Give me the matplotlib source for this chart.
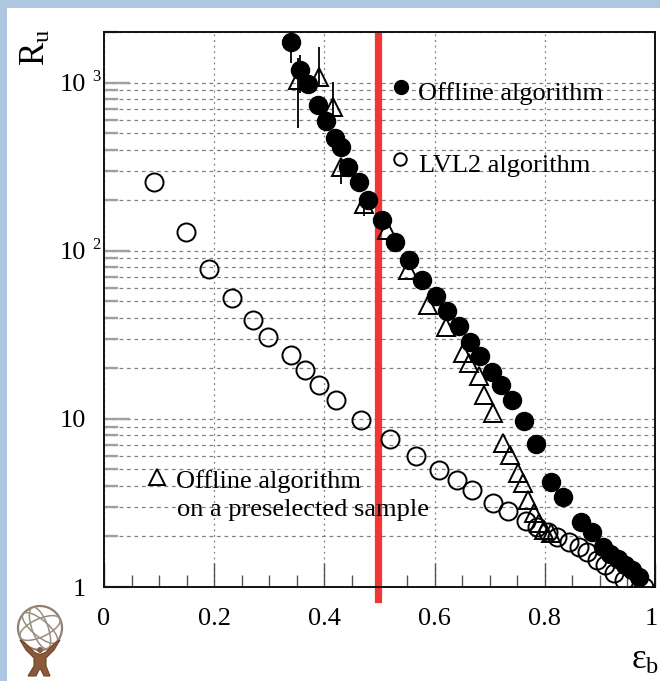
import matplotlib
matplotlib.use("Agg")
import matplotlib.pyplot as plt
import matplotlib.transforms as mtransforms
from matplotlib.patches import Rectangle, Circle, Ellipse, Polygon
from matplotlib.ticker import FixedLocator, FixedFormatter, NullFormatter, LogLocator, MultipleLocator

plt.rcParams['font.family'] = ['Liberation Serif', 'DejaVu Serif']
plt.rcParams['mathtext.fontset'] = 'custom'
plt.rcParams['mathtext.rm'] = 'Liberation Serif'
plt.rcParams['mathtext.it'] = 'Liberation Serif:italic'

# ---- rejection R_u versus b-tagging efficiency eps_b ----
lvl2_eff = [0.090, 0.149, 0.191, 0.232, 0.271, 0.298, 0.340, 0.365, 0.390, 0.421,
            0.466, 0.519, 0.567, 0.608, 0.640, 0.667, 0.706, 0.733, 0.765, 0.785,
            0.805, 0.823, 0.844, 0.862, 0.877, 0.895, 0.910, 0.925, 0.943, 0.980]
lvl2_rej = [255, 129, 78, 52.6, 38.5, 30.7, 23.9, 19.6, 16.0, 13.0,
            9.8, 7.55, 6.0, 4.98, 4.32, 3.8, 3.17, 2.83, 2.47, 2.26,
            2.11, 1.99, 1.86, 1.74, 1.62, 1.45, 1.35, 1.21, 1.10, 1.0]

offline_eff = [0.339, 0.355, 0.370, 0.389, 0.403, 0.419, 0.431, 0.442, 0.463, 0.479,
               0.504, 0.528, 0.554, 0.578, 0.603, 0.623, 0.645, 0.665, 0.683, 0.705,
               0.721, 0.741, 0.762, 0.784, 0.812, 0.833, 0.865, 0.886, 0.906, 0.919,
               0.932, 0.945, 0.958, 0.971]
offline_rej = [1745, 1184, 977, 733, 590, 471, 414, 315, 256, 199,
               153, 113, 88, 67, 54, 44, 35.5, 28.7, 23.7, 19.0,
               16.0, 12.9, 9.7, 7.1, 4.2, 3.45, 2.44, 2.12, 1.74, 1.58,
               1.46, 1.36, 1.26, 1.15]
offline_err_lo = [442, 321] + [0] * 32
offline_err_hi = [442, 270] + [0] * 32

presel_eff = [0.352, 0.390, 0.416, 0.431, 0.471, 0.513, 0.552, 0.588, 0.621, 0.651,
              0.663, 0.681, 0.690, 0.706, 0.724, 0.736, 0.751, 0.760, 0.769, 0.781,
              0.790, 0.799, 0.811]
presel_rej = [1030, 1080, 716, 315, 190, 132, 77, 47.5, 35.4, 24.6,
              21.5, 17.9, 13.9, 10.8, 7.17, 6.1, 4.75, 4.14, 3.3, 2.75,
              2.39, 2.18, 2.09]
presel_err_lo = [490, 117, 173, 64, 28] + [0] * 18
presel_err_hi = [380, 550, 288, 40, 20] + [0] * 18

cut_eff = 0.498

x_ticks = [0, 0.2, 0.4, 0.6, 0.8, 1]
x_tick_labels = ['0', '0.2', '0.4', '0.6', '0.8', '1']
y_ticks = [1, 10, 100, 1000]
y_tick_base = ['1', '10', '10', '10']
y_tick_exp = ['', '', '2', '3']

W, H = 660, 681
fig = plt.figure(figsize=(W / 100, H / 100), dpi=100)
fig.patch.set_facecolor('#aec7e0')
fig.add_artist(Rectangle((7 / W, 0), 1, 1 - 8 / H, transform=fig.transFigure,
                         facecolor='white', edgecolor='none', zorder=0))

ax = fig.add_axes([104 / W, 1 - 587 / H, 551 / W, 555 / H])
ax.set_yscale('log')
ax.set_xlim(0, 1)
ax.set_ylim(1, 2000)
ax.set_axisbelow(True)

for s in ax.spines.values():
    s.set_linewidth(1.4)
    s.set_color('#111111')

# y axis: gray inward ticks, labels drawn as base + exponent
ax.yaxis.set_major_locator(FixedLocator(y_ticks))
ax.yaxis.set_minor_locator(LogLocator(base=10, subs=range(2, 10)))
ax.yaxis.set_major_formatter(NullFormatter())
ax.yaxis.set_minor_formatter(NullFormatter())
ax.tick_params(axis='y', which='major', direction='in', length=18.5, width=1.7,
               color='#a0a0a0', left=True, right=False)
ax.tick_params(axis='y', which='minor', direction='in', length=10, width=1.7,
               color='#a0a0a0', left=True, right=False)

# x axis
ax.xaxis.set_major_locator(FixedLocator(x_ticks))
ax.xaxis.set_major_formatter(FixedFormatter(x_tick_labels))
ax.xaxis.set_minor_locator(MultipleLocator(0.05))
ax.tick_params(axis='x', which='major', direction='in', length=17, width=1,
               color='#555555', top=False, labelsize=19, pad=15)
ax.tick_params(axis='x', which='minor', direction='in', length=8.5, width=1,
               color='#555555', top=False)

# keep the last x label inside the canvas
last_lbl = ax.get_xticklabels()[-1]
last_lbl.set_transform(last_lbl.get_transform() +
                       mtransforms.ScaledTranslation(-4 / 100, 0, fig.dpi_scale_trans))

ax.grid(axis='y', which='both', linestyle=(0, (3, 3)), color='#808080', linewidth=0.9)
ax.grid(axis='x', which='major', linestyle=(0, (1.5, 3)), color='#808080', linewidth=0.9)

ylab_tr = mtransforms.blended_transform_factory(fig.transFigure, ax.transData)
sup_off = mtransforms.ScaledTranslation(0, 8 / 100, fig.dpi_scale_trans)
for v, base, ex in zip(y_ticks, y_tick_base, y_tick_exp):
    fig.text(86 / W, v, base, transform=ylab_tr, ha='right', va='center_baseline',
             fontsize=19)
    if ex:
        fig.text(92 / W, v, ex, transform=ylab_tr + sup_off, ha='left',
                 va='center_baseline', fontsize=12)

# selected working point
ax.axvline(cut_eff, ymin=-0.022, ymax=0.995, color='#f23535', linewidth=5.2,
           clip_on=False, zorder=2.5)

# preselected sample (open triangles)
ax.errorbar(presel_eff, presel_rej, yerr=[presel_err_lo, presel_err_hi], fmt='none',
            ecolor='black', elinewidth=1.3, capsize=0, zorder=3)
ax.plot(presel_eff, presel_rej, linestyle='none', marker='^', markersize=12.5,
        markerfacecolor='none', markeredgecolor='black', markeredgewidth=1.4, zorder=4)

# LVL2 (open circles)
ax.plot(lvl2_eff, lvl2_rej, linestyle='none', marker='o', markersize=13,
        markerfacecolor='none', markeredgecolor='black', markeredgewidth=1.4, zorder=4)

# offline (filled circles)
ax.errorbar(offline_eff, offline_rej, yerr=[offline_err_lo, offline_err_hi], fmt='none',
            ecolor='black', elinewidth=1.3, capsize=0, zorder=4.5)
ax.plot(offline_eff, offline_rej, linestyle='none', marker='o', markersize=13,
        markerfacecolor='black', markeredgecolor='black', zorder=5)

# in-frame legend
ax.plot([0.539], [938], marker='o', markersize=10, color='black', linestyle='none')
ax.text(0.570, 785, 'Offline algorithm', fontsize=19, ha='left', va='baseline')
ax.plot([0.5375], [349], marker='o', markersize=9, markerfacecolor='none',
        markeredgecolor='black', markeredgewidth=1.4, linestyle='none')
ax.text(0.571, 294, 'LVL2 algorithm', fontsize=19, ha='left', va='baseline')
ax.plot([0.0957], [4.52], marker='^', markersize=11, markerfacecolor='none',
        markeredgecolor='black', markeredgewidth=1.4, linestyle='none')
ax.text(0.130, 3.88, 'Offline algorithm', fontsize=19, ha='left', va='baseline')
ax.text(0.132, 2.647, 'on a preselected sample', fontsize=19, ha='left', va='baseline')

# axis titles
fig.text(36 / W, 1 - 47 / H, r'R$_{\rm u}$', rotation=90, fontsize=25,
         ha='center', va='center')
fig.text(645 / W, 1 - 660 / H, r'ε$_{\rm b}$', fontsize=25, ha='center', va='center')

# small globe emblem in the corner
lg = fig.add_axes([10 / W, 1 / H, 60 / W, 82 / H])
lg.set_xlim(0, 60)
lg.set_ylim(0, 82)
lg.set_aspect('equal')
lg.axis('off')
gc = (30, 52)
lg.add_patch(Circle(gc, 22, facecolor='none', edgecolor='#8d8072', linewidth=1.6))
lg.add_patch(Ellipse(gc, 44, 18, angle=25, facecolor='none', edgecolor='#9a8e80', linewidth=1.1))
lg.add_patch(Ellipse(gc, 44, 16, angle=-40, facecolor='none', edgecolor='#9a8e80', linewidth=1.1))
lg.add_patch(Ellipse(gc, 16, 44, angle=20, facecolor='none', edgecolor='#9a8e80', linewidth=1.1))
lg.add_patch(Polygon([(10, 40), (14, 38), (24, 28), (28, 26), (32, 26), (36, 28),
                      (46, 38), (50, 40), (44, 30), (36, 22), (36, 14), (40, 4),
                      (34, 4), (30, 12), (26, 4), (18, 4), (24, 14), (24, 22), (16, 30)],
                     closed=True, facecolor='#8a5a3a', edgecolor='#6e4428', linewidth=0.8))
lg.add_patch(Circle((30, 30), 3, facecolor='#8a5a3a', edgecolor='none'))

fig.savefig('out.png', dpi=100, facecolor=fig.get_facecolor())
